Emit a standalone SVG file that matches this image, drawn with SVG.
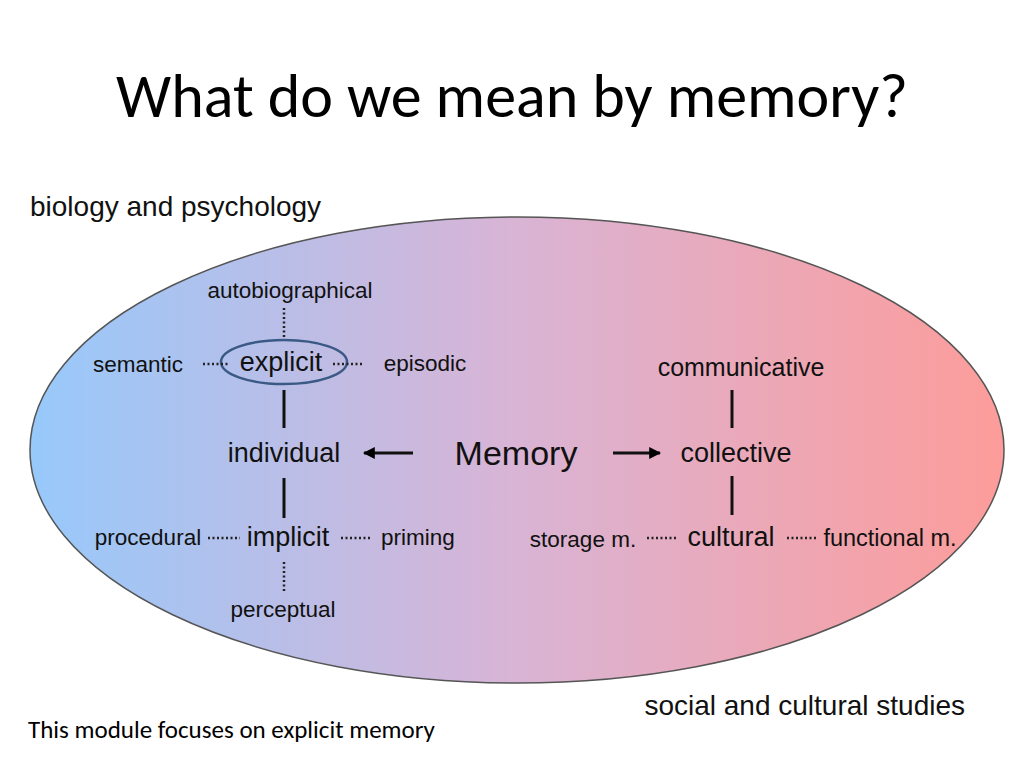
<svg xmlns="http://www.w3.org/2000/svg" width="1024" height="768" viewBox="0 0 1024 768">
<defs>
<linearGradient id="g" x1="0" x2="1" y1="0" y2="0">
<stop offset="0" stop-color="#97c9fb"/>
<stop offset="0.5" stop-color="#d9b4d5"/>
<stop offset="1" stop-color="#fd9c9a"/>
</linearGradient>
<marker id="ah" viewBox="0 0 10 10" refX="9" refY="5" markerWidth="4" markerHeight="4" orient="auto"><path d="M0,0 L10,5 L0,10 z" fill="#000"/></marker>
<style>
.t{font-family:"Liberation Sans",Arial,sans-serif;fill:#111;text-anchor:middle}
.s{font-size:22.5px}.m{font-size:27px}
.d{stroke:#222;stroke-width:2.5;stroke-dasharray:2 2.5;fill:none}
.l{stroke:#111;stroke-width:3;fill:none}
</style>
</defs>
<rect width="1024" height="768" fill="#fff"/>
<text x="512" y="117" font-family="Calibri,'Open Sans',sans-serif" font-size="62" text-anchor="middle" fill="#000">What do we mean by memory?</text>
<text x="30" y="216" class="t" style="text-anchor:start;font-size:28px">biology and psychology</text>
<ellipse cx="517" cy="450" rx="487" ry="233" fill="url(#g)" stroke="#555" stroke-width="1.5"/>
<g id="connectors">
<ellipse cx="284" cy="362" rx="63" ry="22" fill="none" stroke="#3a5a85" stroke-width="2.5"/>
<line class="d" x1="284" y1="308" x2="284" y2="338"/>
<line class="d" x1="203" y1="364" x2="230" y2="364"/>
<line class="d" x1="333" y1="364" x2="362" y2="364"/>
<line class="l" x1="284" y1="390" x2="284" y2="428"/>
<line class="l" x1="284" y1="478" x2="284" y2="518"/>
<line class="d" x1="208" y1="538" x2="240" y2="538"/>
<line class="d" x1="341" y1="538" x2="372" y2="538"/>
<line class="d" x1="284" y1="562" x2="284" y2="592"/>
<line class="l" x1="413" y1="453" x2="364" y2="453" marker-end="url(#ah)"/>
<line class="l" x1="613" y1="453" x2="660" y2="453" marker-end="url(#ah)"/>
<line class="l" x1="732" y1="390" x2="732" y2="428"/>
<line class="l" x1="732" y1="476" x2="732" y2="515"/>
<line class="d" x1="647" y1="538" x2="677" y2="538"/>
<line class="d" x1="787" y1="538" x2="818" y2="538"/>
</g>
<g id="autobiographical"><text x="290" y="298" class="t s">autobiographical</text></g>
<g id="semantic"><text x="138" y="372" class="t s">semantic</text></g>
<g id="explicit"><text x="281" y="371" class="t m">explicit</text></g>
<g id="episodic"><text x="425" y="371" class="t s">episodic</text></g>
<g id="individual"><text x="284" y="462" class="t m">individual</text></g>
<g id="memory"><text x="516" y="465" class="t" style="font-size:34px">Memory</text></g>
<g id="procedural"><text x="148" y="545" class="t s">procedural</text></g>
<g id="implicit"><text x="288" y="546" class="t m">implicit</text></g>
<g id="priming"><text x="418" y="545" class="t s">priming</text></g>
<g id="perceptual"><text x="283" y="617" class="t s">perceptual</text></g>
<g id="communicative"><text x="741" y="376" class="t" style="font-size:25px">communicative</text></g>
<g id="collective"><text x="736" y="462" class="t m">collective</text></g>
<g id="storage"><text x="583" y="547" class="t s">storage m.</text></g>
<g id="cultural"><text x="731" y="546" class="t m">cultural</text></g>
<g id="functional"><text x="890" y="546" class="t" style="font-size:23.5px">functional m.</text></g>
<text x="965" y="715" class="t" style="text-anchor:end;font-size:28px">social and cultural studies</text>
<text x="28" y="738" font-family="Calibri,'Open Sans',sans-serif" font-size="25" fill="#000">This module focuses on explicit memory</text>
</svg>
